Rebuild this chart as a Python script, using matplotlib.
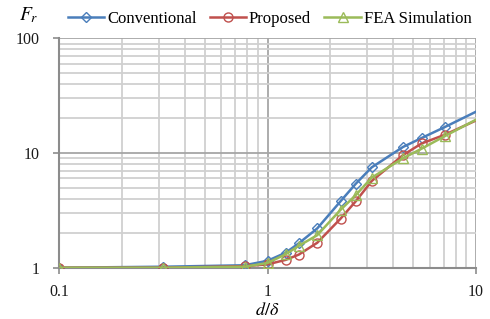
import matplotlib
matplotlib.use("Agg")
import matplotlib.pyplot as plt
from matplotlib.ticker import LogLocator, FixedLocator, NullFormatter

# Data
x_vals = [0.1, 0.316, 0.775, 1.0, 1.22, 1.41, 1.73, 2.24, 2.65, 3.16, 4.47, 5.48, 7.07, 10]
conventional = [1.0, 1.02, 1.05, 1.15, 1.35, 1.63, 2.2, 3.8, 5.4, 7.5, 11.3, 13.5, 16.8, 22.9]
proposed = [1.0, 1.0, 1.03, 1.07, 1.17, 1.3, 1.65, 2.68, 3.8, 5.7, 9.6, 12.1, 14.4, 19.2]
fea = [1.0, 1.0, 1.02, 1.1, 1.31, 1.55, 1.92, 3.2, 4.3, 6.1, 9.0, 10.9, 14.0, 19.5]
series_names = ["Conventional", "Proposed", "FEA Simulation"]
x_ticklabels = ["0.1", "1", "10"]
y_ticklabels = ["1", "10", "100"]

plt.rcParams["font.family"] = ["Liberation Serif", "DejaVu Serif"]
plt.rcParams["mathtext.fontset"] = "stix"

fig = plt.figure(figsize=(4.9, 3.19), dpi=100)
ax = fig.add_axes([0.121, 0.1608, 0.8504, 0.7192])

colors = ["#4A7EBB", "#C0504D", "#9BBB59"]
markers = ["D", "o", "^"]
msizes = [5.5, 6.5, 7]
mark_idx = list(range(len(x_vals) - 1))
for ys, name, c, m, ms in zip([conventional, proposed, fea], series_names, colors, markers, msizes):
    ax.plot(x_vals, ys, color=c, lw=1.8, marker=m, ms=ms, mfc="none", mec=c, mew=1.0,
            markevery=mark_idx, label=name, clip_on=True, zorder=3)

ax.set_xscale("log")
ax.set_yscale("log")
ax.set_xlim(0.1, 10)
ax.set_ylim(1, 100)

ax.xaxis.set_major_locator(FixedLocator([0.1, 1, 10]))
ax.yaxis.set_major_locator(FixedLocator([1, 10, 100]))
ax.set_xticklabels(x_ticklabels)
ax.set_yticklabels(y_ticklabels)
ax.xaxis.set_minor_locator(LogLocator(base=10, subs=range(2, 10)))
ax.yaxis.set_minor_locator(LogLocator(base=10, subs=range(2, 10)))
ax.xaxis.set_minor_formatter(NullFormatter())
ax.yaxis.set_minor_formatter(NullFormatter())

ax.grid(True, which="major", color="#a6a6a6", lw=1.3)
ax.grid(True, which="minor", color="#d0d0d0", lw=1.3)
ax.set_axisbelow(True)

for s in ["top", "right"]:
    ax.spines[s].set_visible(False)
for s in ["left", "bottom"]:
    ax.spines[s].set_color("#8c8c8c")
    ax.spines[s].set_linewidth(1.5)

ax.tick_params(which="major", direction="out", length=4, width=1.2, color="#8c8c8c",
               labelsize=11.5, labelcolor="#1a1a1a")
ax.tick_params(axis="x", which="major", pad=8)
ax.tick_params(axis="y", which="major", pad=10)
ax.tick_params(which="minor", length=0)

fig.text(0.038, 0.953, "$F_r$", fontsize=14, ha="left", va="center")
fig.text(0.546, 0.028, r"$d/\delta$", fontsize=13, ha="center", va="center")

leg = fig.legend(loc="center", bbox_to_anchor=(0.550, 0.942), ncol=3, frameon=False,
                 fontsize=12, handlelength=2.2, handletextpad=0.15, columnspacing=0.8,
                 borderaxespad=0)

fig.savefig("out.png", dpi=100)
